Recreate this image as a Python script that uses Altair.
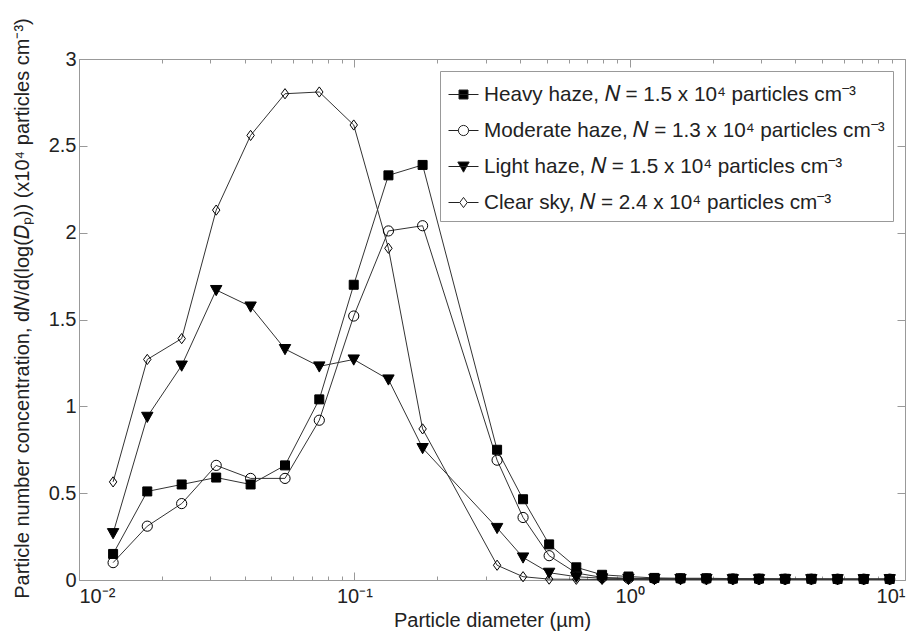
import altair as alt
import pandas as pd

FONT = "Liberation Sans"
FS = 20

# ---- data ----
diameter = [0.0133, 0.0177, 0.0236, 0.0315, 0.0420, 0.0560, 0.0746, 0.0995, 0.133, 0.177,
            0.330, 0.410, 0.510, 0.640, 0.794, 0.990, 1.23, 1.53, 1.90, 2.37, 2.95,
            3.67, 4.57, 5.69, 7.08, 8.80]
heavy = [0.15, 0.51, 0.55, 0.59, 0.55, 0.66, 1.04, 1.70, 2.33, 2.39,
         0.75, 0.465, 0.205, 0.073, 0.030, 0.020, 0.012, 0.010, 0.010, 0.008, 0.008,
         0.007, 0.007, 0.006, 0.006, 0.006]
moderate = [0.10, 0.31, 0.44, 0.66, 0.585, 0.585, 0.92, 1.52, 2.01, 2.04,
            0.69, 0.36, 0.14, 0.040, 0.015, 0.010, 0.008, 0.007, 0.006, 0.006, 0.005,
            0.005, 0.005, 0.005, 0.005, 0.005]
light = [0.27, 0.94, 1.235, 1.67, 1.575, 1.33, 1.23, 1.27, 1.155, 0.76,
         0.30, 0.13, 0.042, 0.019, 0.010, 0.008, 0.007, 0.006, 0.006, 0.005, 0.005,
         0.005, 0.005, 0.005, 0.005, 0.005]
clear = [0.565, 1.27, 1.39, 2.13, 2.56, 2.80, 2.81, 2.62, 1.91, 0.87,
         0.085, 0.019, 0.005, 0.004, 0.003, 0.003, 0.003, 0.003, 0.003, 0.003, 0.003,
         0.003, 0.003, 0.003, 0.003, 0.003]

series_names = [
    "Heavy haze, \U0001D441 = 1.5 x 10\u2074 particles cm\u207B\u00B3",
    "Moderate haze, \U0001D441 = 1.3 x 10\u2074 particles cm\u207B\u00B3",
    "Light haze, \U0001D441 = 1.5 x 10\u2074 particles cm\u207B\u00B3",
    "Clear sky, \U0001D441 = 2.4 x 10\u2074 particles cm\u207B\u00B3",
]

x_major = [0.01, 0.1, 1, 10]
x_minor = [0.02, 0.03, 0.04, 0.05, 0.06, 0.07, 0.08, 0.09,
           0.2, 0.3, 0.4, 0.5, 0.6, 0.7, 0.8, 0.9,
           2, 3, 4, 5, 6, 7, 8, 9]
y_ticks = [0, 0.5, 1, 1.5, 2, 2.5, 3]

rows = []
for name, vals in zip(series_names, [heavy, moderate, light, clear]):
    for d, v in zip(diameter, vals):
        rows.append({"series": name, "diameter": d, "value": v})
df = pd.DataFrame(rows)

# ---- styles ----
marker_paths = [
    "M-0.75,-0.75H0.75V0.75H-0.75Z",
    "M0.85,0A0.85,0.85,0,1,1,-0.85,0A0.85,0.85,0,1,1,0.85,0Z",
    "M-0.95,-0.75L0.95,-0.75L0,0.95Z",
    "M0,-0.85L0.62,0L0,0.85L-0.62,0Z",
]
legend_paths = [
    "M-1,0H1M-0.3,-0.3H0.3V0.3H-0.3Z",
    "M-1,0H-0.34M0.34,0H1M0.34,0A0.34,0.34,0,1,1,-0.34,0A0.34,0.34,0,1,1,0.34,0Z",
    "M-1,0H1M-0.38,-0.3L0.38,-0.3L0,0.38Z",
    "M-1,0H-0.25M0.25,0H1M0,-0.34L0.25,0L0,0.34L-0.25,0Z",
]
fills = ["black", "transparent", "black", "transparent"]

xscale = alt.Scale(type="log", domain=[0.01, 10], nice=False)
yscale = alt.Scale(domain=[0, 3], nice=False, zero=False)

base = alt.Chart(df)

x_label_expr = ("'10' + (datum.value < 0.05 ? '\u207B\u00B2' : datum.value < 0.5 ? '\u207B\u00B9' : "
                "datum.value < 5 ? '\u2070' : '\u00B9')")

lines = base.mark_line(color="#333333", strokeWidth=1).encode(
    x=alt.X("diameter:Q", scale=xscale,
            axis=alt.Axis(orient="bottom", values=x_major, labelExpr=x_label_expr,
                          ticks=False, tickSize=0, domain=False, grid=False,
                          labelPadding=6, labelFontSize=FS, labelFont=FONT, labelColor="#222",
                          title="Particle diameter (\u00B5m)", titleFont=FONT,
                          titleFontSize=FS, titleFontWeight="normal", titleColor="#222",
                          titleBaseline="middle", titleY=40)),
    y=alt.Y("value:Q", scale=yscale,
            axis=alt.Axis(orient="left", values=y_ticks, format="~g",
                          ticks=False, tickSize=0, domain=False, grid=False,
                          labelPadding=3, labelFontSize=FS, labelFont=FONT, labelColor="#222",
                          title="Particle number concentration, d\U0001D441/d(log(\U0001D437\u209A)) (x10\u2074 particles cm\u207B\u00B3)",
                          titleFont=FONT, titleFontSize=FS, titleFontWeight="normal",
                          titleColor="#222", titleBaseline="middle", titleAngle=-90,
                          titleX=-57, titleY=249)),
    detail="series:N",
)

points = base.mark_point(filled=True, stroke="black", strokeWidth=1, size=144, opacity=1).encode(
    x=alt.X("diameter:Q", scale=xscale, axis=None),
    y=alt.Y("value:Q", scale=yscale, axis=None),
    shape=alt.Shape("series:N", scale=alt.Scale(domain=series_names, range=marker_paths), legend=None),
    fill=alt.Fill("series:N", scale=alt.Scale(domain=series_names, range=fills), legend=None),
)

leg = alt.Legend(title=None, orient="none", legendX=361, legendY=12, symbolSize=900,
                 symbolStrokeWidth=1, labelFontSize=20.7,
                 labelFont=FONT, labelColor="#222", labelOffset=5, rowPadding=10,
                 padding=8, strokeColor="#999", fillColor="white", labelLimit=700)

legend_layer = base.transform_filter("false").mark_point(
    filled=True, strokeWidth=1, opacity=1).encode(
    x=alt.X("diameter:Q", scale=xscale, axis=None),
    y=alt.Y("value:Q", scale=yscale, axis=None),
    shape=alt.Shape("series:N", scale=alt.Scale(domain=series_names, range=legend_paths), legend=leg),
    fill=alt.Fill("series:N", scale=alt.Scale(domain=series_names, range=fills), legend=leg),
    stroke=alt.Stroke("series:N", scale=alt.Scale(domain=series_names,
                                                   range=["#222", "#222", "#222", "#222"]), legend=leg),
)

tick_common = dict(domain=False, grid=False, labels=False, ticks=True, tickColor="#999",
                   tickWidth=1, title=None)


def xticks(orient, vals, size):
    return base.transform_filter("false").mark_point().encode(
        x=alt.X("diameter:Q", scale=xscale,
                axis=alt.Axis(orient=orient, values=vals, tickSize=size, offset=-size, **tick_common)),
        y=alt.Y("value:Q", scale=yscale, axis=None),
    )


def yticks(orient, size):
    return base.transform_filter("false").mark_point().encode(
        x=alt.X("diameter:Q", scale=xscale, axis=None),
        y=alt.Y("value:Q", scale=yscale,
                axis=alt.Axis(orient=orient, values=y_ticks, tickSize=size, offset=-size, **tick_common)),
    )


chart = alt.layer(
    lines, points, legend_layer,
    xticks("bottom", x_minor, 4), xticks("bottom", x_major, 8),
    xticks("top", x_minor, 4), xticks("top", x_major, 8),
    yticks("left", 8), yticks("right", 8),
).resolve_scale(
    shape="independent", fill="independent", stroke="independent"
).resolve_axis(
    x="independent", y="independent"
).properties(
    width=826, height=521,
    autosize=alt.AutoSizeParams(type="none"),
    padding={"left": 79, "top": 59, "right": 12, "bottom": 52},
    background="white",
).configure_view(stroke="#999", strokeWidth=1)

chart.save("out.html", embed_options={"renderer": "svg", "actions": False})
